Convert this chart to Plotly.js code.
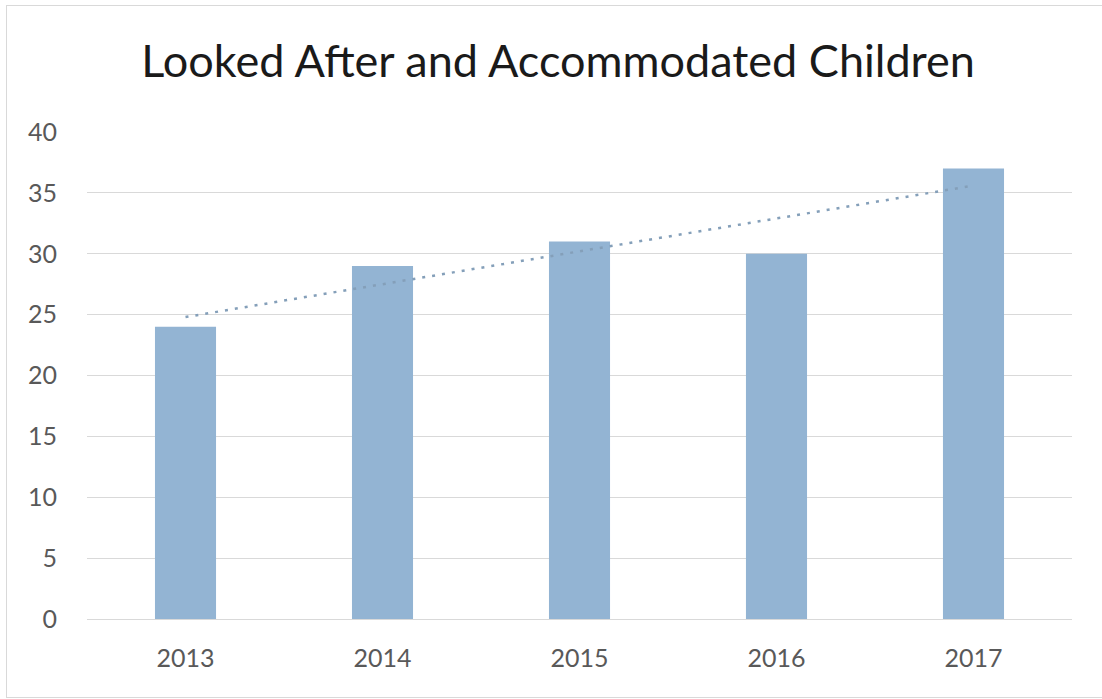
<!DOCTYPE html>
<html>
<head>
<meta charset="utf-8">
<script src="https://cdn.plot.ly/plotly-3.0.1.min.js"></script>
<style>
html,body{margin:0;padding:0;background:#fff;}
#chart{width:1102px;height:699px;}
#frame{position:absolute;left:6px;top:5px;width:1110px;height:691px;border:1px solid #d9d9d9;pointer-events:none;}
</style>
</head>
<body>
<div id="chart"></div>
<div id="frame"></div>
<script>
var years = ['2013', '2014', '2015', '2016', '2017'];
var children = [24, 29, 31, 30, 37];
var trend = [24.8, 27.5, 30.2, 32.9, 35.6];
var yTicks = [0, 5, 10, 15, 20, 25, 30, 35, 40];

var bars = {
  type: 'bar',
  x: years,
  y: children,
  marker: {color: '#93b4d3'},
  hoverinfo: 'x+y',
  showlegend: false
};
var trendLine = {
  type: 'scatter',
  mode: 'lines',
  x: years,
  y: trend,
  line: {color: '#849fb9', width: 2.5, dash: '3px,7px'},
  showlegend: false
};

var layout = {
  width: 1102,
  height: 699,
  margin: {l: 87, r: 30, t: 132, b: 80},
  paper_bgcolor: '#ffffff',
  plot_bgcolor: '#ffffff',
  bargap: 0.69,
  title: {
    text: 'Looked After and Accommodated Children',
    font: {family: 'Lato, Open Sans, sans-serif', size: 45, color: '#1a1a1a'},
    x: 0.5065, xanchor: 'center',
    y: 0.913, yanchor: 'middle'
  },
  xaxis: {
    type: 'category',
    showgrid: false,
    showline: false,
    ticks: '',
    tickfont: {family: 'Lato, Open Sans, sans-serif', size: 25, color: '#595959'},
    ticklabelstandoff: 22
  },
  yaxis: {
    range: [0, 40],
    tickvals: yTicks,
    showgrid: true,
    gridcolor: '#d9d9d9',
    gridwidth: 1,
    zeroline: true,
    zerolinecolor: '#d9d9d9',
    zerolinewidth: 1,
    showline: false,
    ticks: '',
    tickfont: {family: 'Lato, Open Sans, sans-serif', size: 25, color: '#595959'},
    ticklabelstandoff: 29
  }
};

Plotly.newPlot('chart', [bars, trendLine], layout, {displayModeBar: false, staticPlot: true});
</script>
</body>
</html>
